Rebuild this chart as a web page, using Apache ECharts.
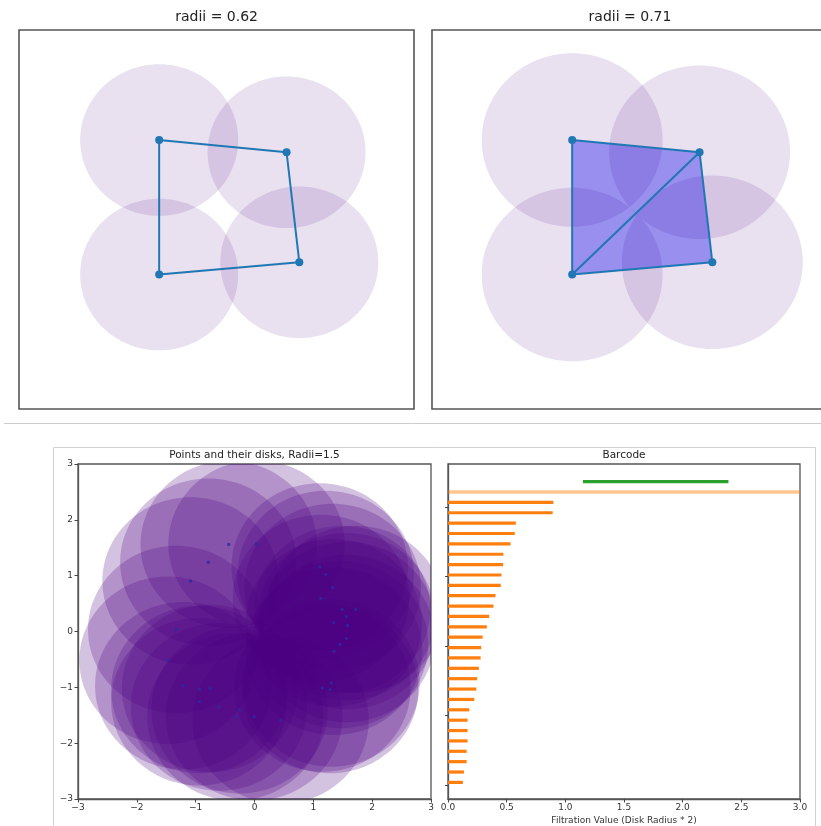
<!DOCTYPE html>
<html><head><meta charset="utf-8">
<script src="https://cdn.jsdelivr.net/npm/echarts@6/dist/echarts.min.js"></script>
<style>html,body{margin:0;padding:0;background:#fff}#c{width:821px;height:826px}</style>
</head><body><div id="c"></div>
<script>
// ---------- top panels (same 4 points, two radii) ----------
const topPtsX = [0.0, 1.0, 1.1, 0.0];
const topPtsY = [1.1, 1.0, 0.1, 0.0];
const radiusLeft = 0.62;
const radiusRight = 0.71;
const edgesLeft = [[0,1],[1,2],[2,3],[3,0]];
const edgesRight = [[0,1],[1,2],[2,3],[3,0],[3,1]];
const trianglesRight = [[0,1,3],[1,2,3]];
const topTitles = ['radii = 0.62', 'radii = 0.71'];

// ---------- bottom-left point cloud ----------
const cloudX = [-0.438, 0.034, -0.784, -1.086, -1.33, -1.477, -1.210, -0.937, -0.755, -0.937,
                -0.602, -0.251, -0.324, -0.005, 0.443, 1.108, 1.210, 1.329, 1.130, 1.488,
                1.721, 1.563, 1.347, 1.580, 1.563, 1.454, 1.352, 1.307, 1.154, 1.284];
const cloudY = [1.557, 1.568, 1.239, 0.904, 0.036, -0.515, -0.970, -1.037, -1.019, -1.257,
                -1.353, -1.401, -1.527, -1.527, -1.586, 1.155, 1.019, 0.790, 0.593, 0.395,
                0.395, 0.264, 0.156, 0.108, -0.126, -0.234, -0.354, -0.922, -1.011, -1.037];
const diskRadius = 1.5;
const cloudTicks = [-3, -2, -1, 0, 1, 2, 3];
const cloudTickLabels = ['\u22123', '\u22122', '\u22121', '0', '1', '2', '3'];

// ---------- barcode ----------
const h1Birth = [1.15];
const h1Death = [2.39];
const h0InfBirth = [0.0];
const h0InfDeath = [Infinity];
const h0Deaths = [0.898, 0.892, 0.578, 0.569, 0.533, 0.472, 0.470, 0.456, 0.450, 0.405,
                  0.388, 0.351, 0.331, 0.295, 0.283, 0.278, 0.263, 0.249, 0.241, 0.224,
                  0.181, 0.167, 0.167, 0.167, 0.159, 0.159, 0.136, 0.127];
const barTicks = [0.0, 0.5, 1.0, 1.5, 2.0, 2.5, 3.0];
const barTickLabels = ['0.0', '0.5', '1.0', '1.5', '2.0', '2.5', '3.0'];
const barYTicks = [-0.25, 6.5, 13.17, 19.83, 26.5];
const bottomTitles = ['Points and their disks, Radii=1.5', 'Barcode'];
const barXName = 'Filtration Value (Disk Radius * 2)';

const FONT = 'DejaVu Sans';
const BLUE = '#1f77b4';
const barXMax = 3.0;

const topPts = topPtsX.map((x, i) => [x, topPtsY[i]]);
const edgeData = edges => edges.map(([a, b]) => [topPtsX[a], topPtsY[a], topPtsX[b], topPtsY[b]]);
const triData = trianglesRight.map(t => t.flatMap(k => [topPtsX[k], topPtsY[k]]));
const cloudPts = cloudX.map((x, i) => [x, cloudY[i]]);

// barcode rows: bottom-most bar at y=0, upwards
const nH0 = h0Deaths.length;
const h0Data = h0Deaths.map((d, i) => [0, d, nH0 - 1 - i]);
const h0InfData = h0InfBirth.map((b, i) => [b, Math.min(h0InfDeath[i], barXMax), nH0]);
const h1Data = h1Birth.map((b, i) => [b, h1Death[i], nH0 + 1 + i]);

function diskSeries(gridIdx, r, fill, z) {
  return {
    type: 'custom', xAxisIndex: gridIdx, yAxisIndex: gridIdx, clip: true, z: z,
    data: gridIdx < 2 ? topPts : cloudPts,
    renderItem: (p, api) => {
      const c = api.coord([api.value(0), api.value(1)]);
      const s = api.size([r, r]);
      return { type: 'ellipse', shape: { cx: c[0], cy: c[1], rx: s[0], ry: s[1] }, style: { fill: fill } };
    }
  };
}
function edgeSeries(gridIdx, edges) {
  return {
    type: 'custom', xAxisIndex: gridIdx, yAxisIndex: gridIdx, z: 4, clip: true,
    data: edgeData(edges),
    renderItem: (p, api) => {
      const a = api.coord([api.value(0), api.value(1)]);
      const b = api.coord([api.value(2), api.value(3)]);
      return { type: 'line', shape: { x1: a[0], y1: a[1], x2: b[0], y2: b[1] }, style: { stroke: BLUE, lineWidth: 2 } };
    }
  };
}
function pointSeries(gridIdx) {
  return { type: 'scatter', xAxisIndex: gridIdx, yAxisIndex: gridIdx, z: 5, data: topPts,
           symbolSize: 8, itemStyle: { color: BLUE, opacity: 1 }, silent: true };
}
function barSeries(data, color, h) {
  return {
    type: 'custom', xAxisIndex: 3, yAxisIndex: 3, z: 3, clip: true, data: data,
    renderItem: (p, api) => {
      const s = api.coord([api.value(0), api.value(2)]);
      const e = api.coord([api.value(1), api.value(2)]);
      return { type: 'rect', shape: { x: s[0], y: s[1] - h / 2, width: e[0] - s[0], height: h }, style: { fill: color } };
    }
  };
}

const gridBase = { show: true, borderColor: '#555', borderWidth: 1.3, backgroundColor: 'transparent', containLabel: false, outerBoundsMode: 'none' };
const grids = [
  { left: 19, top: 30, width: 395, height: 379, borderWidth: 1.6 },
  { left: 432, top: 30, width: 395, height: 379, borderWidth: 1.6 },
  { left: 78, top: 464, width: 353, height: 335 },
  { left: 448, top: 464, width: 352, height: 335 }
].map(g => Object.assign({}, gridBase, g));

const labelStyle = { color: '#333', fontFamily: FONT, fontSize: 9 };
const axLine = { show: true, onZero: false, lineStyle: { color: '#555', width: 1.3 } };
const axTick = { show: true, length: 3.5, inside: false, lineStyle: { color: '#444', width: 1 } };

const option = {
  animation: false,
  backgroundColor: '#fff',
  grid: grids,
  xAxis: [
    { gridIndex: 0, type: 'value', min: -1.1, max: 2.0, show: false },
    { gridIndex: 1, type: 'value', min: -1.1, max: 2.0, show: false },
    { gridIndex: 2, type: 'value', min: -3, max: 3, interval: 1, axisLine: axLine, axisTick: axTick,
      splitLine: { show: false },
      axisLabel: Object.assign({ margin: 4, formatter: v => cloudTickLabels[cloudTicks.indexOf(v)] }, labelStyle) },
    { gridIndex: 3, type: 'value', min: 0, max: barXMax, interval: 0.5, axisLine: axLine, axisTick: axTick,
      splitLine: { show: false },
      axisLabel: Object.assign({ margin: 4, formatter: v => barTickLabels[barTicks.findIndex(t => Math.abs(t - v) < 1e-9)] }, labelStyle),
      name: barXName, nameLocation: 'middle', nameGap: 17,
      nameTextStyle: { color: '#333', fontFamily: FONT, fontSize: 9 } }
  ],
  yAxis: [
    { gridIndex: 0, type: 'value', min: -1.1, max: 2.0, show: false },
    { gridIndex: 1, type: 'value', min: -1.1, max: 2.0, show: false },
    { gridIndex: 2, type: 'value', min: -3, max: 3, interval: 1, axisLine: axLine, axisTick: axTick,
      splitLine: { show: false },
      axisLabel: Object.assign({ margin: 5, formatter: v => cloudTickLabels[cloudTicks.indexOf(v)] }, labelStyle) },
    { gridIndex: 3, type: 'value', min: -1.6, max: 30.7, axisLine: axLine,
      axisTick: Object.assign({}, axTick, { length: 3, customValues: barYTicks }),
      axisLabel: { show: false }, splitLine: { show: false } }
  ],
  series: [
    // top-left
    diskSeries(0, radiusLeft, 'rgba(75,0,130,0.12)', 2),
    edgeSeries(0, edgesLeft),
    pointSeries(0),
    // top-right
    diskSeries(1, radiusRight, 'rgba(75,0,130,0.12)', 2),
    {
      type: 'custom', xAxisIndex: 1, yAxisIndex: 1, z: 3, clip: true, data: triData,
      renderItem: (p, api) => {
        const pts = [0, 1, 2].map(k => api.coord([api.value(2 * k), api.value(2 * k + 1)]));
        return { type: 'polygon', shape: { points: pts }, style: { fill: 'rgba(20,10,235,0.38)' } };
      }
    },
    edgeSeries(1, edgesRight),
    pointSeries(1),
    // bottom-left
    diskSeries(2, diskRadius, 'rgba(75,0,130,0.24)', 2),
    { type: 'scatter', xAxisIndex: 2, yAxisIndex: 2, z: 5, data: cloudPts, symbolSize: 3.4,
      itemStyle: { color: '#2b2ba0' }, silent: true },
    // barcode
    barSeries(h0Data, '#ff7f0e', 3.2),
    barSeries(h0InfData, 'rgba(255,127,14,0.45)', 3.4),
    barSeries(h1Data, '#2ca02c', 3.4)
  ],
  graphic: [
    { type: 'line', z: 0, shape: { x1: 4, y1: 423.5, x2: 821, y2: 423.5 }, style: { stroke: '#cccccc', lineWidth: 1 } },
    { type: 'rect', z: 0, shape: { x: 53.5, y: 447.5, width: 762, height: 400 }, style: { fill: 'none', stroke: '#d2d2d2', lineWidth: 1 } },
    { type: 'text', x: 216.6, y: 17, style: { text: topTitles[0], font: '14px "DejaVu Sans"', fill: '#222', textAlign: 'center', textVerticalAlign: 'middle', align: 'center', verticalAlign: 'middle' } },
    { type: 'text', x: 630, y: 17, style: { text: topTitles[1], font: '14px "DejaVu Sans"', fill: '#222', textAlign: 'center', textVerticalAlign: 'middle', align: 'center', verticalAlign: 'middle' } },
    { type: 'text', x: 254.5, y: 455.5, style: { text: bottomTitles[0], font: '10.5px "DejaVu Sans"', fill: '#222', textAlign: 'center', textVerticalAlign: 'middle', align: 'center', verticalAlign: 'middle' } },
    { type: 'text', x: 624, y: 455.5, style: { text: bottomTitles[1], font: '10.5px "DejaVu Sans"', fill: '#222', textAlign: 'center', textVerticalAlign: 'middle', align: 'center', verticalAlign: 'middle' } }
  ]
};

const chart = echarts.init(document.getElementById('c'), null, { renderer: 'canvas' });
chart.setOption(option);
</script>
</body></html>
